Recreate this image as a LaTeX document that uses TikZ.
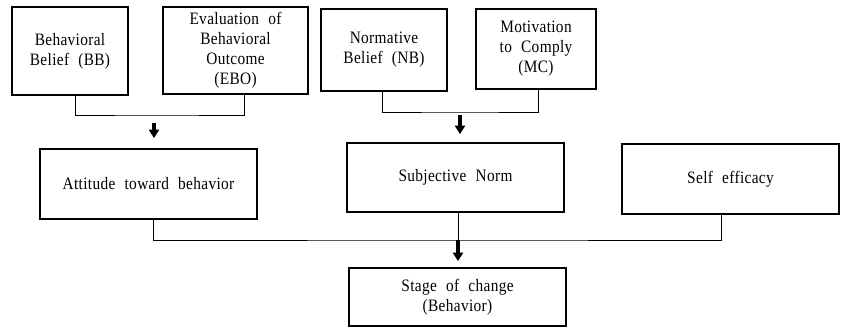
\documentclass[tikz,border=0pt]{standalone}
\usepackage{fontspec}
\setmainfont{Liberation Serif}[FakeStretch=0.88,LetterSpace=2,WordSpace=2.2]
\usetikzlibrary{positioning, arrows.meta}
\tikzset{
    caja/.style={draw, rectangle, line width=1.3pt, align=center, inner sep=1pt, font=\fontsize{12.4}{14.2}\selectfont},
    conn/.style={-, line width=0.7pt},
    flecha/.style={-{Triangle[width=0.25cm,length=0.21cm]}, line width=2.9pt},
}

\begin{document}
\begin{tikzpicture}[x=0.025cm, y=-0.025cm]
    \useasboundingbox (0,0) rectangle (842,328);
    % first row
    \node [caja, minimum width=2.9cm, minimum height=2.2cm] (bb) at (70,51) {Behavioral\\Belief (BB)};
    \node [caja, minimum width=3.625cm, minimum height=2.175cm] (ebo) at (235.5,50.5) {Evaluation of\\Behavioral\\Outcome\\(EBO)};
    \node [caja, minimum width=3.15cm, minimum height=2.05cm] (nb) at (384,50) {Normative\\Belief (NB)};
    \node [caja, minimum width=3cm, minimum height=2cm] (mc) at (536,49) {Motivation\\to Comply\\(MC)};
    % second row
    \node [caja, minimum width=5.425cm, minimum height=1.75cm] (att) at (148.5,184) {Attitude toward behavior};
    \node [caja, minimum width=5.425cm, minimum height=1.725cm] (sn) at (455.5,177.5) {Subjective Norm};
    \node [caja, minimum width=5.425cm, minimum height=1.75cm] (se) at (730.5,179) {Self efficacy};
    % last one
    \node [caja, minimum width=5.425cm, minimum height=1.45cm] (sc) at (457.5,297) {Stage of change\\(Behavior)};

    \coordinate (j1) at (154,115);
    \coordinate (j2) at (460,112);
    \coordinate (j3) at (458,240);

    \draw[conn] (75,0 |- bb.south) |- (j1) -| (244,0 |- ebo.south);
    \draw[conn] (382,0 |- nb.south) |- (j2) -| (538,0 |- mc.south);
    \draw[conn] (153,0 |- att.south) |- (j3) -| (721,0 |- se.south);
    \draw[conn] (sn.south -| j3) -- (j3);

    \draw[flecha, shorten <=0.2cm, shorten >=0.25cm] (j1) -- (j1 |- att.north);
    \draw[flecha, shorten <=0.075cm, shorten >=0.2cm] (j2) -- (j2 |- sn.north);
    \draw[flecha, shorten >=0.15cm] (j3) -- (j3 |- sc.north);
\end{tikzpicture}
\end{document}
